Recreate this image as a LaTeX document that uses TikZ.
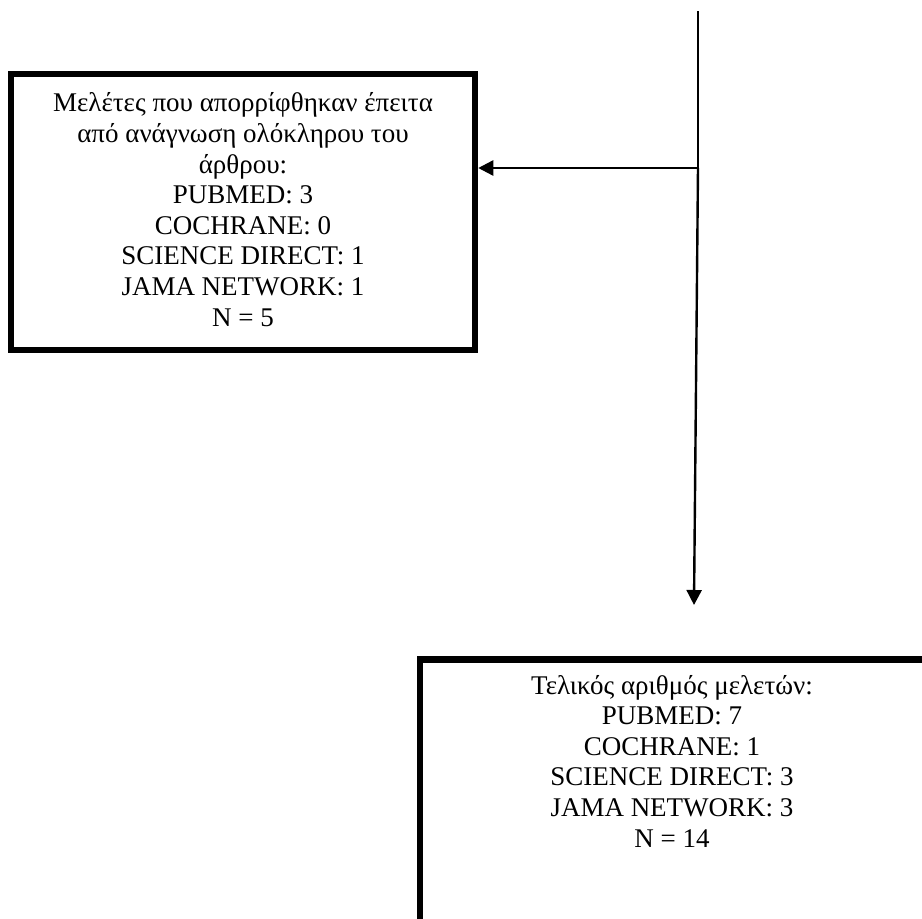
\documentclass[tikz,border=0pt]{standalone}
\usepackage{fontspec}
\setmainfont{Liberation Serif}
\usetikzlibrary{arrows.meta}
\tikzset{
  thickbox/.style={draw=black, line width=6.5pt, rectangle, inner sep=0pt},
  boxtext/.style={align=center, inner sep=0pt, anchor=base, font=\fontsize{27}{30.6}\selectfont},
  conn/.style={draw=black, line width=2.4pt},
  arr/.style={conn, -{Triangle[length=15pt,width=15pt]}}
}
\begin{document}
\begin{tikzpicture}[x=1pt,y=-1pt]
\useasboundingbox (0,0) rectangle (922,919);
\clip (0,0) rectangle (922,919);
\fill[white] (0,0) rectangle (922,919);
% boxes
\node[thickbox, minimum width=464pt, minimum height=276pt] (leftbox) at (243,212) {};
\node[boxtext] (lefttext) at (243,326) {Μελέτες που απορρίφθηκαν έπειτα\\από ανάγνωση ολόκληρου του\\άρθρου:\\PUBMED: 3\\COCHRANE: 0\\SCIENCE DIRECT: 1\\JAMA NETWORK: 1\\N = 5};
\node[thickbox, minimum width=511pt, minimum height=400pt, anchor=north west] (finalbox) at (416.5,656) {};
\node[boxtext] (finaltext) at (672,847) {Τελικός αριθμός μελετών:\\PUBMED: 7\\COCHRANE: 1\\SCIENCE DIRECT: 3\\JAMA NETWORK: 3\\N = 14};
% connectors
\coordinate (top) at (698,11);
\coordinate (j) at (698,168);
\coordinate (e) at (694,605);
\draw[conn] (top) -- (j);
\draw[arr] (j) -- (j -| leftbox.east);
\draw[arr] (j) -- (e);
\end{tikzpicture}
\end{document}
